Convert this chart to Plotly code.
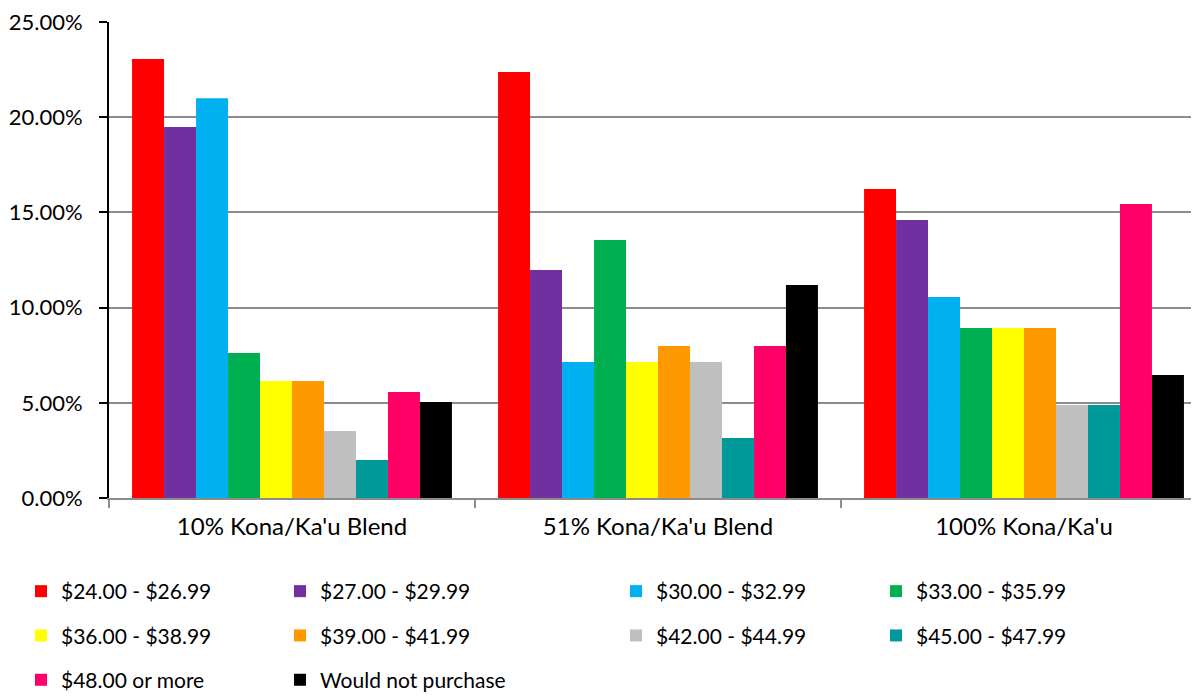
import plotly.graph_objects as go

categories = ["10% Kona/Ka'u Blend", "51% Kona/Ka'u Blend", "100% Kona/Ka'u"]
series_names = ["$24.00 - $26.99", "$27.00 - $29.99", "$30.00 - $32.99", "$33.00 - $35.99",
                "$36.00 - $38.99", "$39.00 - $41.99", "$42.00 - $44.99", "$45.00 - $47.99",
                "$48.00 or more", "Would not purchase"]
series_colors = ["#FF0000", "#7030A0", "#00B0F0", "#00B050", "#FFFF00",
                 "#FF9900", "#BFBFBF", "#009999", "#FF0066", "#000000"]
p24 = [0.2306, 0.2237, 0.1623]
p27 = [0.1949, 0.1197, 0.1460]
p30 = [0.2100, 0.0714, 0.1056]
p33 = [0.0762, 0.1355, 0.0893]
p36 = [0.0615, 0.0714, 0.0893]
p39 = [0.0615, 0.0798, 0.0893]
p42 = [0.0352, 0.0714, 0.0488]
p45 = [0.0200, 0.0315, 0.0488]
p48 = [0.0557, 0.0798, 0.1544]
p_none = [0.0504, 0.1119, 0.0646]
series_values = [p24, p27, p30, p33, p36, p39, p42, p45, p48, p_none]

FONT = "Lato, 'Open Sans', sans-serif"
legend_ids = ["legend", "legend2", "legend3", "legend4"]

fig = go.Figure()
for i, (name, vals, col) in enumerate(zip(series_names, series_values, series_colors)):
    fig.add_trace(go.Bar(
        x=categories, y=vals, name=name,
        marker=dict(color=col, line=dict(width=0)),
        legend=legend_ids[i % 4], legendgroup=f"g{i}",
        hovertemplate="%{x}<br>" + name + ": %{y:.2%}<extra></extra>",
    ))

W, H = 1199, 696
col_x = [13, 272, 608, 868]
leg_common = dict(xref="container", yref="container", xanchor="left", yanchor="top",
                  orientation="v", tracegroupgap=14, bgcolor="rgba(0,0,0,0)",
                  font=dict(family=FONT, size=21, color="#000000"))
layout_legs = {}
for k, lid in enumerate(legend_ids):
    layout_legs[lid] = dict(leg_common, x=col_x[k] / W, y=1 - 563 / H)

fig.update_layout(
    width=W, height=H,
    margin=dict(l=101, r=0, t=14, b=206, autoexpand=False),
    paper_bgcolor="white", plot_bgcolor="white",
    barmode="group", bargap=0.126, bargroupgap=0,
    font=dict(family=FONT, size=21, color="#000000"),
    showlegend=True,
    **layout_legs,
)
fig.update_yaxes(
    range=[0, 0.25], dtick=0.05, tickformat=".2%",
    showgrid=True, gridcolor="#8C8C8C", gridwidth=2,
    showline=True, linecolor="#000000", linewidth=2,
    ticks="outside", ticklen=8, tickcolor="#000000", tickwidth=2,
    ticklabelstandoff=12, ticklabeloverflow="allow",
    tickfont=dict(family=FONT, size=22, color="#000000"),
    zeroline=False, automargin=False,
)
fig.update_xaxes(
    range=[-0.5, 2.5],
    showline=True, linecolor="#8C8C8C", linewidth=2,
    ticks="outside", tickson="boundaries", ticklen=8, tickcolor="#8C8C8C", tickwidth=2,
    ticklabelstandoff=6,
    tickfont=dict(family=FONT, size=24, color="#000000"),
    tickangle=0, automargin=False,
)

fig.write_html("out.html")
